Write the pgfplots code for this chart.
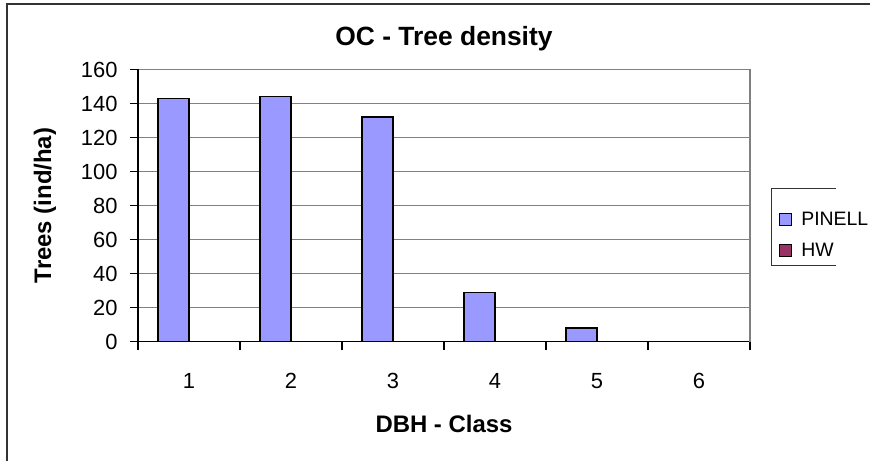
\documentclass[border=0pt]{standalone}
\usepackage{fontspec}
\setmainfont{Liberation Sans}
\usepackage{pgfplots}
\pgfplotsset{compat=1.18}

\definecolor{pinell}{HTML}{9999FF}
\definecolor{hw}{HTML}{993366}
\definecolor{gridgray}{HTML}{808080}

\begin{document}
\begin{tikzpicture}
  % page = 870 x 461 px, plot area lower left at origin
  \useasboundingbox (-138bp,-119.5bp) rectangle (732bp,341.5bp);
  \begin{axis}[
    at={(0,0)}, anchor=south west,
    width=612bp, height=272bp, scale only axis,
    xmin=0.5, xmax=6.5, ymin=0, ymax=160,
    xtick={0.5,1.5,...,6.5}, xticklabels={1,2,3,4,5,6},
    x tick label as interval,
    ytick={0,20,...,160},
    axis x line*=bottom, axis y line*=left,
    axis line style={black, line width=1.2bp},
    tick align=outside,
    major tick length=8bp,
    tick style={black, line width=1.2bp},
    ymajorgrids, grid style={gridgray, line width=1.2bp},
    /pgf/number format/assume math mode=true,
    tick label style={font=\fontsize{22}{25}\selectfont},
    yticklabel style={xshift=-9bp},
    xticklabel style={yshift=-20.5bp},
    title={OC - Tree density},
    title style={font=\fontsize{26.5}{30}\bfseries, at={(0.5,1)}, anchor=base, yshift=18bp},
    xlabel={DBH - Class},
    ylabel={Trees (ind/ha)},
    label style={font=\fontsize{24}{27}\bfseries},
    xlabel style={at={(0.5,0)}, anchor=center, yshift=-82bp},
    ylabel style={at={(-0.152,0.5)}, anchor=center},
    legend cell align=left,
    legend image code/.code={\draw[#1, draw=black, line width=1.3bp] (0bp,-6bp) rectangle (12bp,6bp);},
    legend style={at={(1.0474,0.476)}, anchor=north west, draw=none, fill=none,
      inner sep=0pt, outer sep=0pt, row sep=16bp, column sep=0bp,
      nodes={inner sep=0pt, font=\fontsize{19.5}{22}\selectfont},
      /tikz/every odd column/.style={column sep=9bp}},
    clip=false,
  ]
    \addplot[ybar, bar width=0.304, bar shift=-0.152, fill=pinell, draw=black, line width=1.3bp]
      coordinates {(1,143) (2,144) (3,132) (4,29) (5,8) (6,0)};
    \addplot[ybar, bar width=0.304, bar shift=0.152, fill=hw, draw=black, line width=1.3bp]
      coordinates {(1,0) (2,0) (3,0) (4,0) (5,0) (6,0)};
    \legend{PINELL, HW}
    % plot area right border
    \draw[gridgray, line width=1.2bp] (rel axis cs:1,0) -- (rel axis cs:1,1);
    % legend box (cut at the page edge)
    \draw[black!80, line width=1bp] (rel axis cs:1.14,0.561) -- (rel axis cs:1.0355,0.561)
      -- (rel axis cs:1.0355,0.279) -- (rel axis cs:1.14,0.279);
  \end{axis}
  % chart frame
  \draw[black!80, line width=2bp] (-131bp,-125bp) -- (-131bp,337.5bp) -- (740bp,337.5bp);
\end{tikzpicture}
\end{document}
